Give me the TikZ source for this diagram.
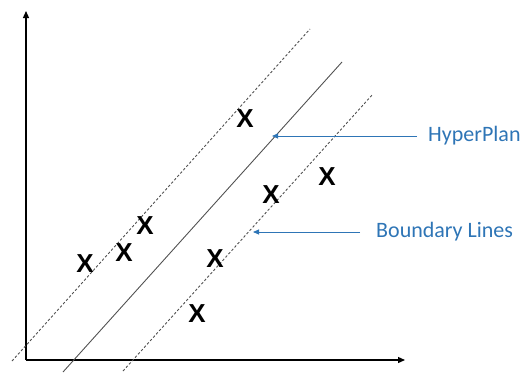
\documentclass[tikz,border=0pt]{standalone}
\usepackage{fontspec}
\setmainfont{Carlito}
\newfontfamily\xfont{Liberation Sans}
\usetikzlibrary{arrows.meta}
\definecolor{lblue}{RGB}{46,117,182}
\definecolor{lgray}{RGB}{80,80,80}
\begin{document}
\begin{tikzpicture}[x=1pt,y=-1pt,
  axis/.style={line width=1.3pt,black,-{Triangle[length=7pt,width=6pt]}},
  dline/.style={line width=0.9pt,lgray,dash pattern=on 2.5pt off 2pt},
  sline/.style={line width=0.9pt,lgray},
  pt/.style={font=\xfont\bfseries\fontsize{26}{26}\selectfont,inner sep=0pt},
  lab/.style={font=\fontsize{22}{22}\selectfont,text=lblue,inner sep=0pt,anchor=west},
  barrow/.style={line width=0.9pt,lblue,-{Triangle[length=6pt,width=5pt]}}]
\useasboundingbox (0,0) rectangle (524,372);
% axes
\coordinate (o) at (26,360);
\coordinate (ytop) at (26,11);
\coordinate (xend) at (405,360);
\draw[axis] (o) -- (ytop);
\draw[axis] (o) -- (xend);
% lines
\coordinate (u1) at (12,361);
\coordinate (u2) at (310,29);
\coordinate (s1) at (63,372);
\coordinate (s2) at (342,62);
\coordinate (l1) at (123,371);
\coordinate (l2) at (373,94);
\draw[dline] (u1) -- (u2);
\draw[sline] (s1) -- (s2);
\draw[dline] (l1) -- (l2);
% points
\node[pt] (p1) at (245,119) {X};
\node[pt] (p2) at (327,177) {X};
\node[pt] (p3) at (271,195) {X};
\node[pt] (p4) at (145,226) {X};
\node[pt] (p5) at (124,253) {X};
\node[pt] (p6) at (85,264) {X};
\node[pt] (p7) at (215,259) {X};
\node[pt] (p8) at (197,314) {X};
% labels
\node[lab] (hp) at (428,136) {HyperPlan};
\node[lab] (bl) at (376,232) {Boundary Lines};
\coordinate (hpa) at (417,136);
\coordinate (hpt) at (272,136);
\coordinate (bla) at (360,232);
\coordinate (blt) at (253,232);
\draw[barrow] (hpa) -- (hpt);
\draw[barrow] (bla) -- (blt);
\end{tikzpicture}
\end{document}
